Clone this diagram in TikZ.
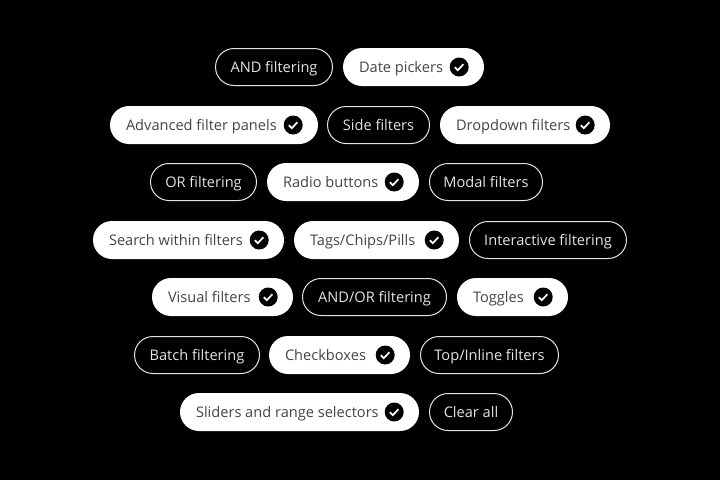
\documentclass[tikz,border=0pt]{standalone}
\usepackage{fontspec}
\setmainfont{Open Sans}
\usetikzlibrary{shapes.misc}
\definecolor{gristexte}{HTML}{444444}
\definecolor{griscontour}{HTML}{E4E4E4}
\begin{document}
\begin{tikzpicture}[x=1pt,y=-1pt]
    \tikzstyle{vide}=[rounded rectangle,draw=griscontour,line width=1pt,text=griscontour,minimum height=37pt,inner sep=0pt,text height=14pt,text depth=3pt,font=\fontsize{14.6}{16}\selectfont]
    \tikzstyle{pleine}=[rounded rectangle,fill=white,minimum height=38pt,inner sep=0pt]
    \tikzstyle{texte}=[anchor=west,inner sep=0pt,text=gristexte,text height=14pt,text depth=3pt,font=\fontsize{14.6}{16}\selectfont]
    \tikzstyle{coche}=[circle,fill=black,minimum size=19pt,inner sep=0pt,path picture={
        \draw[white,line width=1.7pt] ([shift={(-4.4,0.2)}]path picture bounding box.center) -- ++(3,3) -- ++(5.6,-6);}]
    \fill[black] (0,0) rectangle (720,480);
    % ligne 1
    \node[vide,minimum width=117pt] (et) at (274,67) {AND filtering};
    \node[pleine,minimum width=141pt] (dates) at (413.5,67) {};
    \node[texte] (tdates) at ([xshift=16pt]dates.west) {Date pickers};
    \node[coche] (cdates) at ([xshift=-25pt]dates.east) {};
    % ligne 2
    \node[pleine,minimum width=208pt] (panneaux) at (214,125) {};
    \node[texte] (tpanneaux) at ([xshift=16pt]panneaux.west) {Advanced filter panels};
    \node[coche] (cpanneaux) at ([xshift=-25pt]panneaux.east) {};
    \node[vide,minimum width=102pt] (cote) at (378.5,125) {Side filters};
    \node[pleine,minimum width=170pt] (menus) at (525,125) {};
    \node[texte] (tmenus) at ([xshift=16pt]menus.west) {Dropdown filters};
    \node[coche] (cmenus) at ([xshift=-25pt]menus.east) {};
    % ligne 3
    \node[vide,minimum width=106pt] (ou) at (203.5,182) {OR filtering};
    \node[pleine,minimum width=152pt] (radio) at (343,182) {};
    \node[texte] (tradio) at ([xshift=16pt]radio.west) {Radio buttons};
    \node[coche] (cradio) at ([xshift=-25pt]radio.east) {};
    \node[vide,minimum width=113pt] (modal) at (486,182) {Modal filters};
    % ligne 4
    \node[pleine,minimum width=191pt] (recherche) at (188.5,240) {};
    \node[texte] (trecherche) at ([xshift=16pt]recherche.west) {Search within filters};
    \node[coche] (crecherche) at ([xshift=-25pt]recherche.east) {};
    \node[pleine,minimum width=165pt] (tags) at (376.5,240) {};
    \node[texte] (ttags) at ([xshift=16pt]tags.west) {Tags/Chips/Pills};
    \node[coche] (ctags) at ([xshift=-25pt]tags.east) {};
    \node[vide,minimum width=157pt] (inter) at (548,240) {Interactive filtering};
    % ligne 5
    \node[pleine,minimum width=141pt] (visuel) at (222.5,297) {};
    \node[texte] (tvisuel) at ([xshift=16pt]visuel.west) {Visual filters};
    \node[coche] (cvisuel) at ([xshift=-25pt]visuel.east) {};
    \node[vide,minimum width=144pt] (etou) at (374.5,297) {AND/OR filtering};
    \node[pleine,minimum width=111pt] (bascules) at (512.5,297) {};
    \node[texte] (tbascules) at ([xshift=16pt]bascules.west) {Toggles};
    \node[coche] (cbascules) at ([xshift=-25pt]bascules.east) {};
    % ligne 6
    \node[vide,minimum width=125pt] (lot) at (197,355) {Batch filtering};
    \node[pleine,minimum width=141pt] (cases) at (339.5,355) {};
    \node[texte] (tcases) at ([xshift=16pt]cases.west) {Checkboxes};
    \node[coche] (ccases) at ([xshift=-25pt]cases.east) {};
    \node[vide,minimum width=138pt] (haut) at (489.5,355) {Top/Inline filters};
    % ligne 7
    \node[pleine,minimum width=239pt] (curseurs) at (299.5,412) {};
    \node[texte] (tcurseurs) at ([xshift=16pt]curseurs.west) {Sliders and range selectors};
    \node[coche] (ccurseurs) at ([xshift=-25pt]curseurs.east) {};
    \node[vide,minimum width=83pt] (effacer) at (471,412) {Clear all};
\end{tikzpicture}
\end{document}
